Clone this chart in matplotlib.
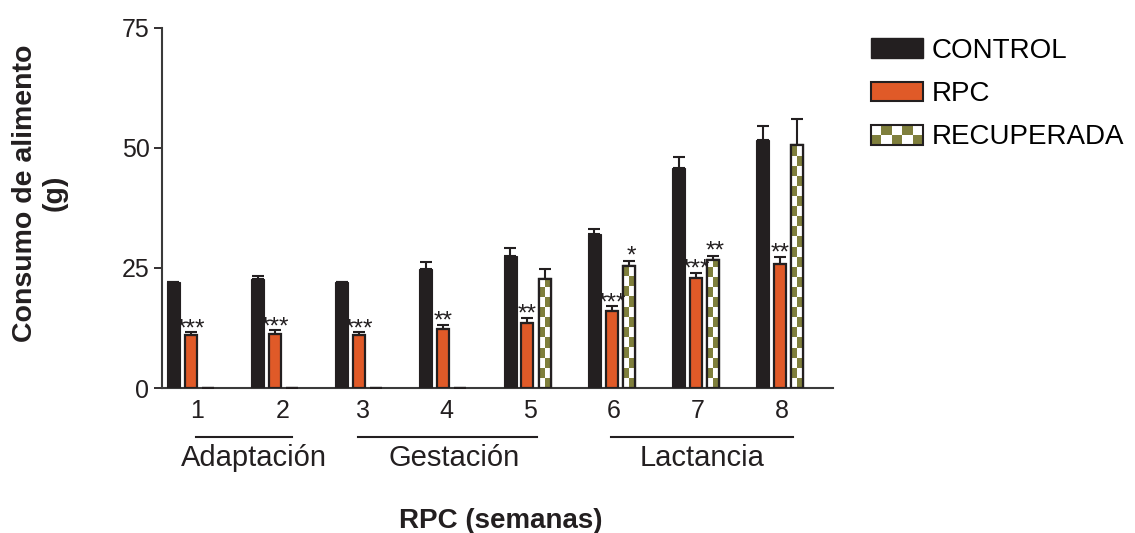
import numpy as np
import matplotlib
matplotlib.use("Agg")
import matplotlib.pyplot as plt
from matplotlib.patches import Patch, Rectangle
from matplotlib.legend_handler import HandlerBase
from matplotlib.colors import ListedColormap
import matplotlib.transforms as mtransforms

plt.rcParams['font.family'] = ['Liberation Sans', 'DejaVu Sans']

# ---------------- data ----------------
weeks = np.array([1, 2, 3, 4, 5, 6, 7, 8])
week_labels = ['1', '2', '3', '4', '5', '6', '7', '8']
control = [22.1, 22.7, 22.1, 24.7, 27.4, 32.1, 45.8, 51.6]
control_err = [0.0, 0.6, 0.0, 1.5, 1.8, 0.9, 2.2, 3.0]
rpc = [11.0, 11.3, 11.0, 12.3, 13.6, 16.0, 22.8, 25.8]
rpc_err = [0.6, 0.7, 0.6, 0.9, 1.0, 1.0, 1.2, 1.5]
recup = [0.0, 0.0, 0.0, 0.0, 22.6, 25.4, 26.6, 50.5]
recup_err = [0.0, 0.0, 0.0, 0.0, 2.2, 1.1, 0.9, 5.4]
rpc_sig = ['***', '***', '***', '**', '**', '***', '***', '**']
recup_sig = ['', '', '', '', '', '*', '**', '']
series_names = ['CONTROL', 'RPC', 'RECUPERADA']
phase_names = ['Adaptación', 'Gestación', 'Lactancia']
phase_start = [1, 3, 6]
phase_end = [2, 5, 8]
yticks = [0, 25, 50, 75]

# ---------------- style ----------------
C_DARK = '#231f20'
C_RPC = '#e05a28'
C_OLIVE = '#7f7f3c'
W = 1135 / 100
H = 533 / 100
bar_w = 0.155
step = 0.205
tick_shift = [0.08, 0.09, 0.05, 0.04, 0.03, 0.02, 0.02, 0.02]
phase_line_pad = [(0.06, 0.2), (-0.01, 0.11), (-0.01, 0.15)]
phase_label_shift = [0.12, 0.08, 0.01]
checker_h = 2.1  # data units per checker square

fig = plt.figure(figsize=(W, H), dpi=100)
ax = fig.add_axes([162 / 1135, 1 - 388 / 533, (833 - 162) / 1135, (388 - 27.7) / 533])

err_kw = dict(ecolor=C_DARK, elinewidth=1.5, capsize=4.5, capthick=1.5)
zeros = np.zeros(len(weeks))

ax.bar(weeks - step, control, bar_w, color=C_DARK, edgecolor=C_DARK, lw=0.8,
       yerr=[zeros, control_err], error_kw=err_kw, zorder=3)
ax.bar(weeks, rpc, bar_w * 0.92, color=C_RPC, edgecolor=C_DARK, lw=1.6,
       yerr=[zeros, rpc_err], error_kw=err_kw, zorder=3)
rb = ax.bar(weeks + step, recup, bar_w * 0.92, color='white', edgecolor=C_DARK, lw=1.6,
            yerr=[zeros, recup_err], error_kw=err_kw, zorder=3)

cmap = ListedColormap(['white', C_OLIVE])
for patch in rb.patches:
    h = patch.get_height()
    if h <= 0:
        continue
    x0, w = patch.get_x(), patch.get_width()
    nrows = int(np.ceil(h / checker_h))
    arr = np.add.outer(np.arange(nrows), np.arange(2)) % 2
    im = ax.imshow(arr, cmap=cmap, extent=[x0, x0 + w, 0, nrows * checker_h],
                   origin='lower', aspect='auto', interpolation='nearest', zorder=3.5)
    im.set_clip_path(patch)
    ax.add_patch(Rectangle((x0, 0), w, h, facecolor='none', edgecolor=C_DARK, lw=1.6, zorder=4))

# significance stars
for x, v, e, s in zip(weeks, rpc, rpc_err, rpc_sig):
    if s:
        ax.annotate(s, (x, v + e), xytext=(0, -2), textcoords='offset points',
                    ha='center', va='baseline', fontsize=17.5, color=C_DARK, zorder=5)
for x, v, e, s in zip(weeks + step, recup, recup_err, recup_sig):
    if s:
        ax.annotate(s, (x, v + e), xytext=(1.5, -1), textcoords='offset points',
                    ha='center', va='baseline', fontsize=17.5, color=C_DARK, zorder=5)

ax.set_xlim(0.66, 8.63)
ax.set_ylim(0, 75)
ax.set_yticks(yticks)
ax.set_xticks(weeks + np.array(tick_shift))
ax.set_xticklabels(week_labels)
ax.tick_params(axis='x', length=0, pad=8, labelsize=18, colors=C_DARK)
ax.tick_params(axis='y', length=6, width=1.3, pad=3, labelsize=18, colors=C_DARK)
for sp in ['top', 'right']:
    ax.spines[sp].set_visible(False)
for sp in ['left', 'bottom']:
    ax.spines[sp].set_linewidth(1.5)
    ax.spines[sp].set_color('#3a3a3a')

# phase annotations
trans = mtransforms.blended_transform_factory(ax.transData, ax.transAxes)
for name, s, e, (p1, p2), sh in zip(phase_names, phase_start, phase_end, phase_line_pad, phase_label_shift):
    x1, x2 = s + p1, e + p2
    ax.plot([x1, x2], [-0.136, -0.136], transform=trans, color=C_DARK, lw=1.5, clip_on=False)
    ax.text((x1 + x2) / 2 + sh, -0.195, name, transform=trans, ha='center', va='center',
            fontsize=21, color=C_DARK)

fig.text(501 / 1135, 1 - 521 / 533, 'RPC (semanas)', ha='center', va='center',
         fontsize=20, fontweight='bold', color=C_DARK)
fig.text(40 / 1135, 1 - 193 / 533, 'Consumo de alimento\n(g)', ha='center', va='center',
         rotation=90, fontsize=20.5, fontweight='bold', color=C_DARK, linespacing=1.2,
         multialignment='center')


class CheckerHandler(HandlerBase):
    def create_artists(self, legend, orig_handle, xdescent, ydescent, width, height, fontsize, trans):
        x0, y0 = -xdescent, -ydescent
        arts = [Rectangle((x0, y0), width, height, facecolor='white', edgecolor='none', transform=trans)]
        ncols, nrows = 5, 2
        cw, ch = width / ncols, height / nrows
        for i in range(ncols):
            for j in range(nrows):
                if (i + j) % 2 == 0:
                    arts.append(Rectangle((x0 + i * cw, y0 + j * ch), cw, ch, facecolor=C_OLIVE,
                                          edgecolor='none', transform=trans))
        arts.append(Rectangle((x0, y0), width, height, facecolor='none', edgecolor=C_DARK,
                              lw=1.5, transform=trans))
        return arts


class Dummy:
    pass


handles = [Patch(facecolor=C_DARK, edgecolor=C_DARK),
           Patch(facecolor=C_RPC, edgecolor=C_DARK, lw=1.5),
           Dummy()]
fig.legend(handles, series_names, loc='upper left', bbox_to_anchor=(871 / 1135, 1 - 38 / 533),
           frameon=False, borderpad=0, borderaxespad=0, handlelength=1.87, handleheight=0.72,
           handletextpad=0.32, labelspacing=0.62, fontsize=20, handler_map={Dummy: CheckerHandler()})

fig.savefig('out.png', dpi=100)
